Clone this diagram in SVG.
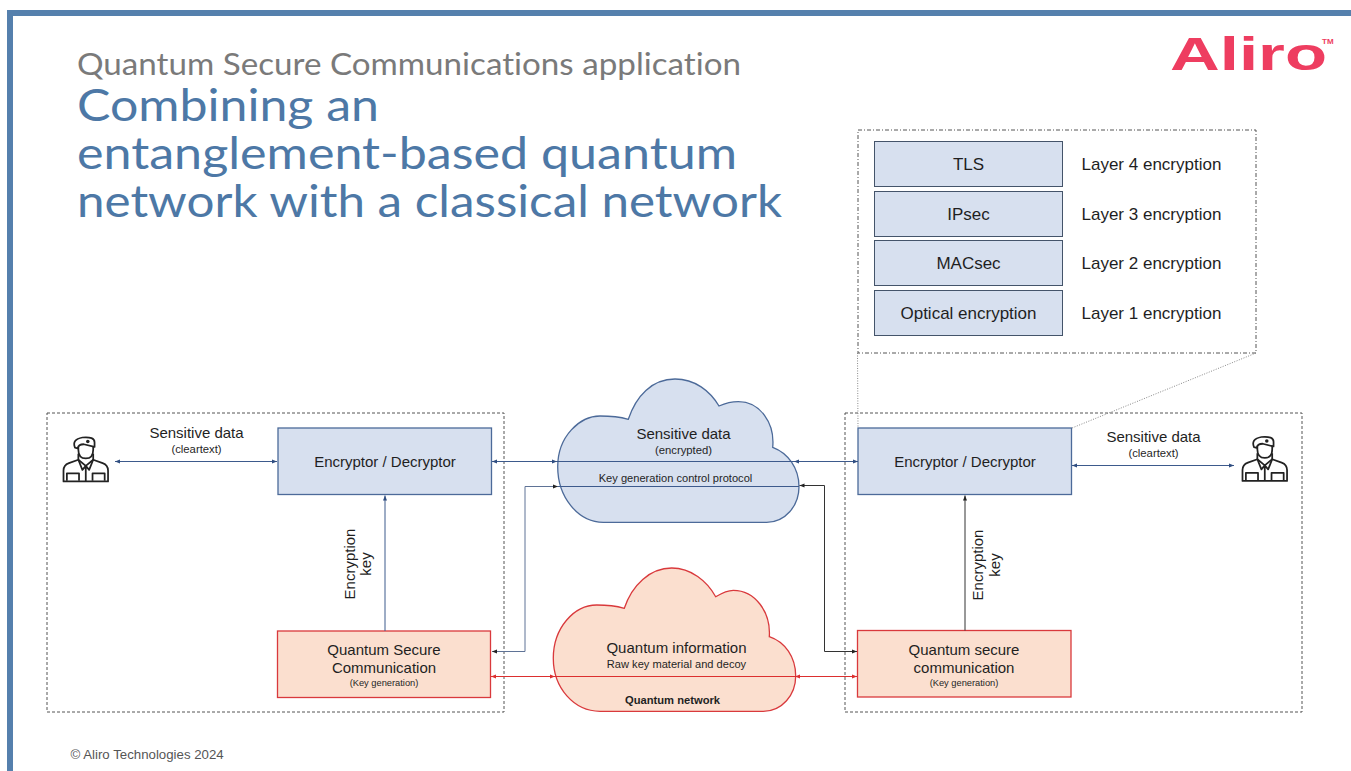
<svg xmlns="http://www.w3.org/2000/svg" xmlns:xlink="http://www.w3.org/1999/xlink" width="1351" height="771" viewBox="0 0 1351 771">
<style>
text{font-family:"Liberation Sans",Arial,sans-serif;fill:#1f1f1f;text-anchor:middle}
.h{font-family:Lato,"Noto Sans",sans-serif;text-anchor:start;font-variant-ligatures:none}
.m{font-size:15px}.s{font-size:9.300px}.k{font-size:11.300px}.p{font-size:11.100px}
.blue{fill:#d7e0ef;stroke:#4c6a99;stroke-width:1.300}
.red{fill:#fbdfcf;stroke:#d9393c;stroke-width:1.300}
.lay{fill:#d7e0ef;stroke:#44546a;stroke-width:1}
.dash{fill:none;stroke:#555;stroke-width:1;stroke-dasharray:3 2}
.dot{fill:none;stroke:#888;stroke-width:1;stroke-dasharray:1 1.500}
.c{fill:none;stroke-width:1}
.cb{stroke:#3d5a8c}.ck{stroke:#333}.cr{stroke:#dc2f2f}
.ic{fill:none;stroke:#222;stroke-width:1.300;stroke-linejoin:round}
.l{font-size:17px}.ls{font-size:17px;text-anchor:start}
</style>
<defs>
<marker id="ab" markerWidth="6" markerHeight="6" refX="5" refY="2.500" orient="auto-start-reverse" markerUnits="userSpaceOnUse"><path d="M0 0.500L5 2.500L0 4.500Z" fill="#2f4d80"/></marker>
<marker id="ak" markerWidth="6" markerHeight="6" refX="5" refY="2.500" orient="auto-start-reverse" markerUnits="userSpaceOnUse"><path d="M0 0.500L5 2.500L0 4.500Z" fill="#222"/></marker>
<marker id="ar" markerWidth="6" markerHeight="6" refX="5" refY="2.500" orient="auto-start-reverse" markerUnits="userSpaceOnUse"><path d="M0 0.500L5 2.500L0 4.500Z" fill="#dc2f2f"/></marker>
<g id="soldier">
<path class="ic" d="M0 32V24.500Q0 20.500 4 19L11 16.500L16.500 21L22 16.500L29 19Q33 20.500 33 24.500V32.500H0Z"/>
<path class="ic" d="M11 16.500V12M22 16.500V12M16.500 21V32.500M11 16.500L14 24L16.500 21L19 24L22 16.500"/>
<path class="ic" d="M2.500 32V26.500H11.500V32M21.500 32V26.500H30.500V32"/>
<path class="ic" d="M11 5.500V9Q11 15.500 16.500 15.500Q22 15.500 22 9V5.500"/>
<path d="M8.500 7.500Q6 1.500 14 0Q23 -0.800 23 3.500V7L15 5Q11 5 10.500 8Z" fill="#fff" stroke="#222" stroke-width="1.300" stroke-linejoin="round"/>
<circle cx="18" cy="3" r="1.300" fill="#222"/>
</g>
</defs>
<rect width="1351" height="771" fill="#fff"/>
<g id="frame" fill="#5580ad"><rect x="7" y="10" width="1344" height="6"/><rect x="7" y="10" width="6" height="761"/></g>
<g id="title">
<text class="h" x="77" y="74.500" font-size="30" style="fill:#7a7a7a" textLength="664" lengthAdjust="spacingAndGlyphs">Quantum Secure Communications application</text>
<text class="h" x="77" y="121" font-size="45" style="fill:#4d78a6" textLength="302" lengthAdjust="spacingAndGlyphs">Combining an</text>
<text class="h" x="77" y="169" font-size="45" style="fill:#4d78a6" textLength="660" lengthAdjust="spacingAndGlyphs">entanglement-based quantum</text>
<text class="h" x="77" y="217" font-size="45" style="fill:#4d78a6" textLength="705" lengthAdjust="spacingAndGlyphs">network with a classical network</text>
</g>
<g id="logo">
<text x="1170" y="70" font-size="46" font-weight="700" style="fill:#ee3d60;text-anchor:start" textLength="157" lengthAdjust="spacingAndGlyphs">Aliro</text>
<text x="1322" y="43.500" font-size="8" font-weight="700" style="fill:#ee3d60;text-anchor:start">TM</text>
</g>
<g id="zones">
<rect class="dash" x="47" y="413" width="457" height="299"/>
<rect class="dash" x="845" y="413" width="457" height="299"/>
<rect class="dash" x="858" y="130" width="398" height="223" style="stroke-dasharray:4 2 1 2"/>
<path class="dot" d="M857.500 353L858 428M1256 353L1072 428"/>
</g>
<g id="cloud-data"><path class="blue" d="M628.300 419.300C636 396 652 379 675 379C695 379 710 391 719 406C726 403 732 401.700 738.300 401.700C760 401.700 775 423 772.700 447.300C788 453 799 468 799 486.700C799 506 785 522.300 766.700 522.300L603.300 522.300C578 522.300 557.700 497 557.700 466.700C557.700 436 580 416 600 416C610 416 620 417 628.300 419.300Z"/>
<text class="m" x="683.500" y="438.500">Sensitive data</text><text class="k" x="683.500" y="453.500">(encrypted)</text><text class="p" x="675.500" y="481.500">Key generation control protocol</text></g>
<g id="cloud-quantum"><path class="red" d="M624.300 608.300C632 585 650 568 671.700 568C691 568 707 581 715.700 596.700C722 593 727 590.300 733.300 590.300C755 590.300 771 612 769.300 636.700C785 642 795.700 657 795.700 676C795.700 695 782 711.300 763.300 711.300L600 711.300C574 711.300 553.300 688 553.300 658.300C553.300 628 574 605 596.700 605C606 605 616 606 624.300 608.300Z"/>
<text class="m" x="676.500" y="653">Quantum information</text><text class="p" x="676.500" y="667.500">Raw key material and decoy</text><text x="672.500" y="704" font-size="11.200" font-weight="700">Quantum network</text></g>
<g id="encryptor-left"><rect class="blue" x="278" y="428" width="213.500" height="66.500"/><text class="m" x="385" y="466.500">Encryptor / Decryptor</text></g>
<g id="qsc-left"><rect class="red" x="277.500" y="631" width="213" height="66.500"/><text class="m" x="384" y="655">Quantum Secure</text><text class="m" x="384" y="673">Communication</text><text class="s" x="384" y="686">(Key generation)</text></g>
<g id="encryptor-right"><rect class="blue" x="858" y="428" width="213.500" height="66.500"/><text class="m" x="965" y="466.500">Encryptor / Decryptor</text></g>
<g id="qsc-right"><rect class="red" x="857.500" y="630.500" width="213.500" height="66.500"/><text class="m" x="964" y="655">Quantum secure</text><text class="m" x="964" y="673">communication</text><text class="s" x="964" y="686">(Key generation)</text></g>
<g id="layers">
<rect class="lay" x="874.500" y="141.500" width="188" height="45"/><text class="l" x="968.500" y="170">TLS</text><text class="ls" x="1081.500" y="170">Layer 4 encryption</text>
<rect class="lay" x="874.500" y="191.500" width="188" height="45"/><text class="l" x="968.500" y="219.500">IPsec</text><text class="ls" x="1081.500" y="219.500">Layer 3 encryption</text>
<rect class="lay" x="874.500" y="240.500" width="188" height="45"/><text class="l" x="968.500" y="269">MACsec</text><text class="ls" x="1081.500" y="269">Layer 2 encryption</text>
<rect class="lay" x="874.500" y="290.500" width="188" height="45"/><text class="l" x="968.500" y="318.500">Optical encryption</text><text class="ls" x="1081.500" y="318.500">Layer 1 encryption</text>
</g>
<g id="user-left"><use xlink:href="#soldier" href="#soldier" transform="translate(63.500 437.500) scale(1.350)"/></g>
<g id="user-right"><use xlink:href="#soldier" href="#soldier" transform="translate(1242.500 437) scale(1.350)"/></g>
<g id="connectors">
<path class="c cb" d="M115 461.500H277" marker-start="url(#ab)" marker-end="url(#ab)"/>
<path class="c cb" d="M492 461.500H557" marker-start="url(#ab)" marker-end="url(#ab)"/>
<path class="c cb" d="M557 461.500H799"/>
<path class="c cb" d="M794 461.500H858" marker-start="url(#ab)" marker-end="url(#ab)"/>
<path class="c cb" d="M1072 465.500H1234" marker-start="url(#ab)" marker-end="url(#ab)"/>
<path class="c cb" d="M385 631V495.500" marker-end="url(#ab)"/>
<path class="c ck" d="M965 630.500V495.500" marker-end="url(#ak)"/>
<path class="c cb" d="M558 486.500H799"/>
<path class="c ck" d="M492 651.500H525V486.500H558" marker-start="url(#ak)" marker-end="url(#ak)" style="stroke:#5f7396"/>
<path class="c ck" d="M799.500 485.500H824.500V651.500H857" marker-start="url(#ak)" marker-end="url(#ak)"/>
<path class="c cr" d="M491 676.500H796"/>
<path class="c cr" d="M491 676.500H555" marker-start="url(#ar)" marker-end="url(#ar)"/>
<path class="c cr" d="M795 676.500H857" marker-start="url(#ar)" marker-end="url(#ar)"/>
</g>
<g id="labels">
<text class="m" x="196.500" y="438">Sensitive data</text><text class="k" x="196.500" y="453">(cleartext)</text>
<text class="m" x="1153.500" y="441.500">Sensitive data</text><text class="k" x="1153.500" y="456.500">(cleartext)</text>
<text class="m" transform="translate(354.500 564) rotate(-90)">Encryption</text><text class="m" transform="translate(371 564) rotate(-90)">key</text>
<text class="m" transform="translate(982.500 565) rotate(-90)">Encryption</text><text class="m" transform="translate(1000 565) rotate(-90)">key</text>
</g>
<text id="footer" x="70.500" y="759" font-size="13.250" style="text-anchor:start;fill:#555">© Aliro Technologies 2024</text>
</svg>
